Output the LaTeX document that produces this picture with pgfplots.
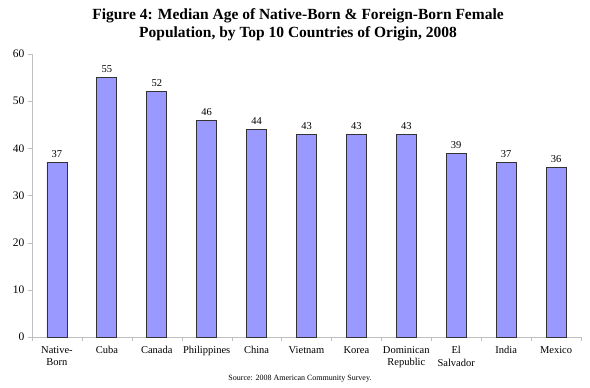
\documentclass[border=0pt]{standalone}
\usepackage{pgfplots}
\pgfplotsset{compat=1.18}
\usepackage{fontspec}
\setmainfont{Liberation Serif}
\definecolor{barfill}{HTML}{9999FF}
\definecolor{axgray}{HTML}{BFBFBF}
\begin{document}
\begin{tikzpicture}
\path[use as bounding box] (0pt,0pt) rectangle (590pt,-388pt);
\begin{axis}[
  at={(32pt,-337pt)}, anchor=south west,
  scale only axis, width=549pt, height=283pt,
  xmin=-0.5, xmax=10.5, ymin=0, ymax=60,
  ytick={0,10,...,60},
  xtick={0,...,10},
  xticklabels={{Native-\\Born},Cuba,Canada,Philippines,China,Vietnam,Korea,{Dominican\\Republic},{El\\Salvador},India,Mexico},
  xticklabel style={align=center, font=\fontsize{10.5}{12.5}\selectfont, yshift=-2pt},
  yticklabel style={font=\fontsize{11.5}{12}\selectfont},
  /pgf/number format/assume math mode=true,
  major x tick style={draw=none},
  minor xtick={-0.5,0.5,...,10.5},
  minor tick length=4pt,
  minor x tick style={axgray},
  major tick length=4pt,
  ytick style={axgray},
  tick align=outside,
  axis x line*=bottom, axis y line*=left,
  x axis line style={axgray,-}, y axis line style={axgray,-},
  ybar, bar width=20pt,
  nodes near coords,
  every node near coord/.append style={font=\fontsize{10.5}{12}\selectfont, text=black, yshift=1pt},
  clip=false,
]
\addplot[fill=barfill, draw=black!80, line width=0.8pt] coordinates {
(0,37) (1,55) (2,52) (3,46) (4,44) (5,43) (6,43) (7,43) (8,39) (9,37) (10,36)};
\end{axis}
\node[font=\bfseries\fontsize{15.5}{18}\selectfont, align=center] at (298pt,-25pt) {Figure 4: Median Age of Native-Born \& Foreign-Born Female\\Population, by Top 10 Countries of Origin, 2008};
\node[font=\fontsize{8}{10}\selectfont] at (300pt,-379pt) {Source: 2008 American Community Survey.};
\end{tikzpicture}
\end{document}
